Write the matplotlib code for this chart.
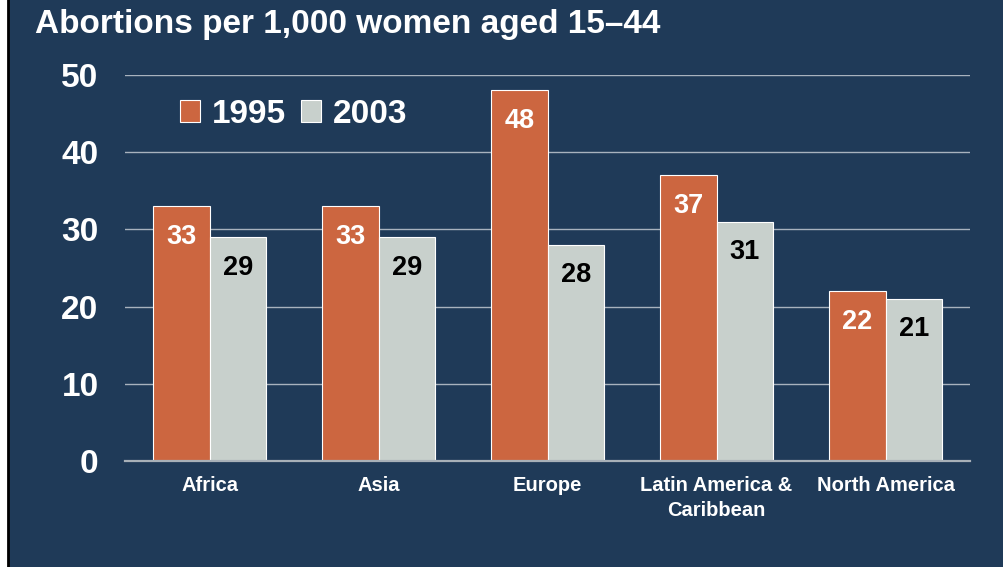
import numpy as np
import matplotlib.pyplot as plt
from matplotlib.patches import Rectangle
from matplotlib.lines import Line2D

regions = ['Africa', 'Asia', 'Europe', 'Latin America &\nCaribbean', 'North America']
rate_1995 = [33, 33, 48, 37, 22]
rate_2003 = [29, 29, 28, 31, 21]
years = ['1995', '2003']

bg = '#1F3A58'
orange = '#CC6640'
grey = '#C8D0CC'

plt.rcParams['font.family'] = ['Liberation Sans', 'DejaVu Sans']
plt.rcParams['font.weight'] = 'bold'

fig = plt.figure(figsize=(10.04, 5.67), dpi=100, facecolor=bg)
# white strip and black rule on the left edge
fig.patches.append(Rectangle((0, 0), 8/1004, 1, transform=fig.transFigure,
                             facecolor='white', edgecolor='none', zorder=0))
fig.lines.append(Line2D([8.5/1004, 8.5/1004], [0, 1], transform=fig.transFigure,
                        color='black', lw=2, zorder=1))

ax = fig.add_axes([125/1004, 1 - 461/567, 845/1004, 386/567])
ax.set_facecolor(bg)

x = np.arange(len(regions))
w = 0.335
b1 = ax.bar(x - w/2, rate_1995, w, color=orange, edgecolor='white', linewidth=0.8,
            label=years[0], zorder=3)
b2 = ax.bar(x + w/2, rate_2003, w, color=grey, edgecolor='white', linewidth=0.8,
            label=years[1], zorder=3)

for rect, v in zip(b1, rate_1995):
    ax.annotate(str(v), (rect.get_x() + rect.get_width()/2, v), xytext=(0, -22),
                textcoords='offset points', ha='center', va='center',
                color='white', fontsize=19.5, fontweight='bold', zorder=4)
for rect, v in zip(b2, rate_2003):
    ax.annotate(str(v), (rect.get_x() + rect.get_width()/2, v), xytext=(0, -22),
                textcoords='offset points', ha='center', va='center',
                color='black', fontsize=19.5, fontweight='bold', zorder=4)

ax.set_xlim(-0.5, 4.5)
ax.set_ylim(0, 50)
ax.set_yticks([0, 10, 20, 30, 40, 50])
ax.yaxis.grid(True, color='#A8B2BE', lw=1, zorder=0)
ax.set_axisbelow(True)
for s in ['top', 'right', 'left']:
    ax.spines[s].set_visible(False)
ax.spines['bottom'].set_color('#A8B0B8')
ax.spines['bottom'].set_linewidth(1.6)
ax.spines['bottom'].set_zorder(5)

ax.set_xticks(x)
ax.set_xticklabels(regions, fontsize=14.5, color='white', fontweight='bold',
                   linespacing=1.35)
ax.tick_params(axis='x', length=0, pad=11)
ax.tick_params(axis='y', length=0, pad=19, labelsize=24, labelcolor='white')
for t in ax.get_yticklabels():
    t.set_fontweight('bold')

leg = ax.legend(loc='upper left', bbox_to_anchor=(0.03, 1.016), ncol=2, frameon=False,
                fontsize=24, handlelength=0.6, handleheight=0.6, handletextpad=0.35,
                columnspacing=0.45, labelcolor='white')
for t in leg.get_texts():
    t.set_fontweight('bold')

fig.text(35/1004, 1 - 25/567, 'Abortions per 1,000 women aged 15\u201344', color='white',
         fontsize=24, fontweight='bold', ha='left', va='center')

fig.savefig('out.png', dpi=100, facecolor=bg)
